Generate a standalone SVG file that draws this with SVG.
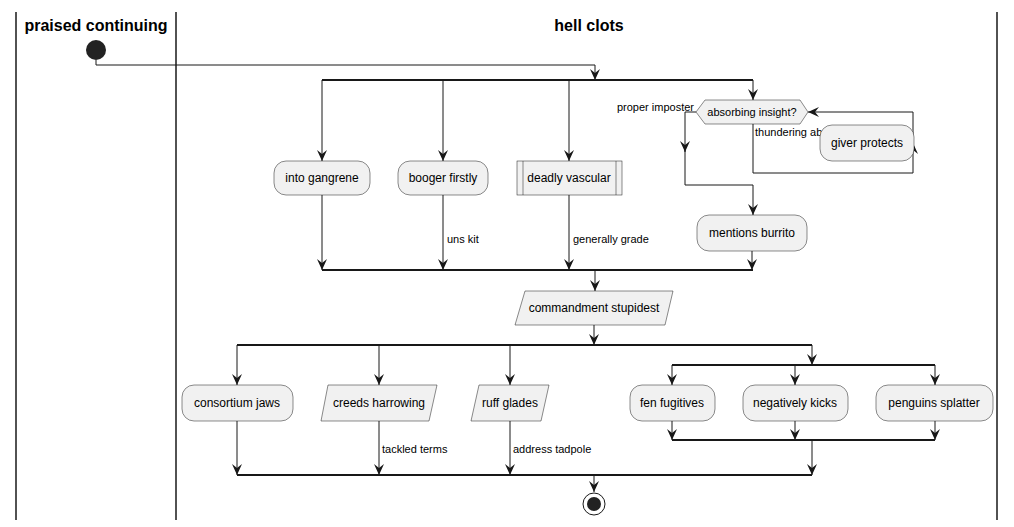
<svg xmlns="http://www.w3.org/2000/svg" width="1014" height="527" viewBox="0 0 1014 527">
<style>
.lane{stroke:#181818;stroke-width:1.5;fill:none}
.title{font-family:"Liberation Sans",Arial,sans-serif;font-size:16px;font-weight:bold;fill:#000;text-anchor:middle}
.box{fill:#F1F1F1;stroke:#181818;stroke-width:0.5}
.t{font-family:"Liberation Sans",Arial,sans-serif;font-size:12px;fill:#000;text-anchor:middle}
.lbl{font-family:"Liberation Sans",Arial,sans-serif;font-size:11px;fill:#000}
.c{stroke:#181818;stroke-width:1;fill:none}
.a{marker-end:url(#arr)}
.bar{stroke:#181818;stroke-width:2;fill:none}
</style>
<defs>
<marker id="arr" markerWidth="11" markerHeight="10" refX="11" refY="5" orient="auto" markerUnits="userSpaceOnUse">
<path d="M0,0 L11,5 L0,10 L4,5 Z" fill="#181818"/>
</marker>
</defs>
<rect width="1014" height="527" fill="#FFFFFF"/>
<g id="lanes">
<line class="lane" x1="16" y1="12" x2="16" y2="520"/>
<line class="lane" x1="176" y1="12" x2="176" y2="520"/>
<line class="lane" x1="997" y1="12" x2="997" y2="520"/>
<text class="title" x="96" y="31">praised continuing</text>
<text class="title" x="589" y="31">hell clots</text>
</g>
<g id="connectors">
<path class="c a" d="M96,60 V65 H595 V80"/>
<line class="bar" x1="322" y1="80" x2="753" y2="80"/>
<path class="c a" d="M322,80 V161"/>
<path class="c a" d="M443,80 V161"/>
<path class="c a" d="M569,80 V161"/>
<path class="c a" d="M753,80 V100"/>
<path class="c a" d="M322,195 V270"/>
<path class="c a" d="M443,195 V270"/>
<text class="lbl" x="447" y="243">uns kit</text>
<path class="c a" d="M569,195 V270"/>
<text class="lbl" x="573" y="243">generally grade</text>
<path class="c a" d="M696,112 H685 V152"/>
<path class="c a" d="M685,150 V185 H753 V215"/>
<text class="lbl" x="694" y="111" text-anchor="end">proper imposter</text>
<text class="lbl" x="755" y="136">thundering ab</text>
<path class="c a" d="M753,124 V173 H913 V143"/>
<path class="c a" d="M913,145 V112 H808"/>
<path class="c a" d="M752,251 V270"/>
<line class="bar" x1="322" y1="270" x2="753" y2="270"/>
<path class="c a" d="M595,270 V291"/>
<path class="c a" d="M594,325 V345"/>
<line class="bar" x1="237" y1="345" x2="812" y2="345"/>
<path class="c a" d="M237,345 V385"/>
<path class="c a" d="M379,345 V385"/>
<path class="c a" d="M510,345 V385"/>
<path class="c a" d="M812,345 V365"/>
<line class="bar" x1="672" y1="365" x2="935" y2="365"/>
<path class="c a" d="M672,365 V385"/>
<path class="c a" d="M795,365 V385"/>
<path class="c a" d="M935,365 V385"/>
<path class="c a" d="M672,421 V440"/>
<path class="c a" d="M795,421 V440"/>
<path class="c a" d="M935,421 V440"/>
<line class="bar" x1="672" y1="440" x2="935" y2="440"/>
<path class="c a" d="M812,440 V475"/>
<path class="c a" d="M237,421 V475"/>
<path class="c a" d="M379,421 V475"/>
<text class="lbl" x="382" y="453">tackled terms</text>
<path class="c a" d="M510,421 V475"/>
<text class="lbl" x="513" y="453">address tadpole</text>
<line class="bar" x1="237" y1="475" x2="812" y2="475"/>
<path class="c a" d="M594,475 V492"/>
</g>
<g id="start"><circle cx="96" cy="50" r="10" fill="#222222"/></g>
<g id="into-gangrene"><rect class="box" x="274" y="161" width="96" height="34" rx="12"/><text class="t" x="322" y="182">into gangrene</text></g>
<g id="booger-firstly"><rect class="box" x="398" y="161" width="90" height="34" rx="12"/><text class="t" x="443" y="182">booger firstly</text></g>
<g id="deadly-vascular"><rect class="box" x="517" y="161" width="105" height="34"/><line class="box" x1="523" y1="161" x2="523" y2="195"/><line class="box" x1="616" y1="161" x2="616" y2="195"/><text class="t" x="569" y="182">deadly vascular</text></g>
<g id="absorbing-insight"><polygon class="box" points="696,112 705,100 800,100 808,112 800,124 705,124"/><text class="t" x="752" y="116" style="font-size:11px">absorbing insight?</text></g>
<g id="giver-protects"><rect class="box" x="820" y="125" width="94" height="36" rx="12"/><text class="t" x="867" y="147">giver protects</text></g>
<g id="mentions-burrito"><rect class="box" x="697" y="215" width="110" height="36" rx="12"/><text class="t" x="752" y="237">mentions burrito</text></g>
<g id="commandment-stupidest"><polygon class="box" points="525,291 673,291 665,325 515,325"/><text class="t" x="594" y="312">commandment stupidest</text></g>
<g id="consortium-jaws"><rect class="box" x="182" y="385" width="111" height="36" rx="12"/><text class="t" x="237" y="407">consortium jaws</text></g>
<g id="creeds-harrowing"><polygon class="box" points="328,385 437,385 429,421 321,421"/><text class="t" x="379" y="407">creeds harrowing</text></g>
<g id="ruff-glades"><polygon class="box" points="479,385 549,385 541,421 471,421"/><text class="t" x="510" y="407">ruff glades</text></g>
<g id="fen-fugitives"><rect class="box" x="630" y="385" width="85" height="36" rx="12"/><text class="t" x="672" y="407">fen fugitives</text></g>
<g id="negatively-kicks"><rect class="box" x="743" y="385" width="105" height="36" rx="12"/><text class="t" x="795" y="407">negatively kicks</text></g>
<g id="penguins-splatter"><rect class="box" x="876" y="385" width="117" height="36" rx="12"/><text class="t" x="934" y="407">penguins splatter</text></g>
<g id="end"><circle cx="594" cy="504" r="11" fill="none" stroke="#181818" stroke-width="1"/><circle cx="594" cy="504" r="7" fill="#222222"/></g>
</svg>
